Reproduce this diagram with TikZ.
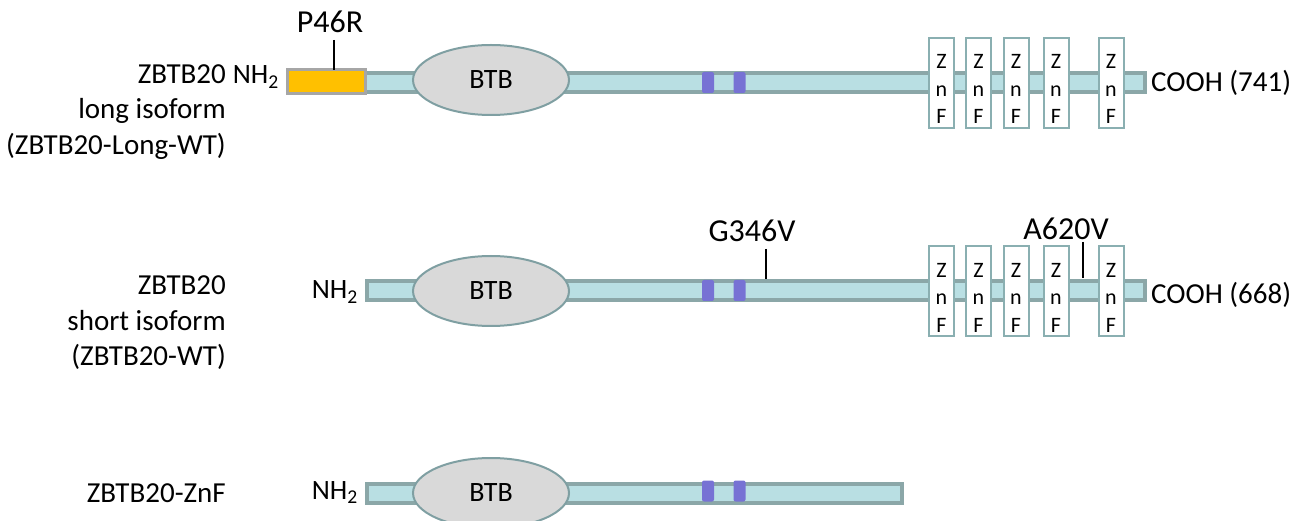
\documentclass[tikz,border=0pt]{standalone}
\usepackage{fontspec}
\setmainfont{Carlito}
\usetikzlibrary{shapes.geometric}
\definecolor{barfill}{HTML}{B9DFE3}
\definecolor{barline}{HTML}{8BA7A8}
\definecolor{btbfill}{HTML}{D9D9D9}
\definecolor{btbline}{HTML}{7F9FA2}
\definecolor{motif}{HTML}{7772D4}
\definecolor{nterm}{HTML}{FFC000}
\definecolor{ntermline}{HTML}{A6A6A6}
\definecolor{znfline}{HTML}{8AAFB1}
\begin{document}
\begin{tikzpicture}[x=1pt,y=-1pt,
  txt/.style={font=\fontsize{29}{35.5}\selectfont, inner sep=0},
  term/.style={font=\fontsize{28}{30}\selectfont, inner sep=0},
  mut/.style={font=\fontsize{32}{38}\selectfont, inner sep=0},
  bar/.style={draw=barline, fill=barfill, line width=4, inner sep=0, minimum height=19},
  btb/.style={ellipse, draw=btbline, fill=btbfill, line width=2, minimum width=156,
    minimum height=70, font=\fontsize{28}{34}\selectfont, inner sep=0},
  znf/.style={rectangle, draw=znfline, fill=white, line width=2, minimum width=25,
    minimum height=90, inner sep=0},
  znftext/.style={font=\fontsize{22}{27.5}\selectfont, align=center, inner sep=0},
  motifbox/.style={fill=motif, rounded corners=2, minimum width=12, minimum height=21, inner sep=0},
  pin/.style={line width=1.3}]
\useasboundingbox (0,0) rectangle (1304,521);

% ---------- long isoform ----------
\node[txt, align=right, anchor=east] (lab1) at (226,112) {ZBTB20\\long isoform\\(ZBTB20-Long-WT)};
\node[term, anchor=base east] (nh1) at (279,84) {NH\textsubscript{2}};
\node[bar, minimum width=855, anchor=west] (bar1) at (288,82.5) {};
\node[draw=ntermline, fill=nterm, line width=3, minimum width=78, minimum height=24, inner sep=0] (nt1) at (326.5,81.5) {};
\node[btb] (btb1) at (491,80) {BTB};
\node[motifbox] (m1a) at (708,82.5) {};
\node[motifbox] (m1b) at (739.5,82.5) {};
\foreach \i/\x in {1/941.5,2/978.5,3/1016,4/1056,5/1111}{
  \node[znf] (z1\i) at (\x,83) {};
  \node[znftext] at ([yshift=-6]z1\i.center) {Z\\n\\F};
}
\node[txt, anchor=west] (c1) at (1151,83) {COOH (741)};
\node[mut, anchor=base] (p46r) at (330,33) {P46R};
\coordinate (p46rA) at (334,40);
\coordinate (p46rB) at (334,70);
\draw[pin] (p46rA) -- (p46rB);

% ---------- short isoform ----------
\node[txt, align=right, anchor=east] (lab2) at (226,323) {ZBTB20\\short isoform\\(ZBTB20-WT)};
\node[term, anchor=base east] (nh2) at (358,299) {NH\textsubscript{2}};
\node[bar, minimum width=778, anchor=west] (bar2) at (365,290.5) {};
\node[btb] (btb2) at (491,291) {BTB};
\node[motifbox] (m2a) at (708,290.5) {};
\node[motifbox] (m2b) at (739.5,290.5) {};
\foreach \i/\x in {1/941.5,2/978.5,3/1016,4/1056,5/1111}{
  \node[znf] (z2\i) at (\x,291.5) {};
  \node[znftext] at ([yshift=-6]z2\i.center) {Z\\n\\F};
}
\node[txt, anchor=west] (c2) at (1151,295) {COOH (668)};
\node[mut, anchor=base] (g346v) at (752,242) {G346V};
\coordinate (g346vA) at (766,249);
\coordinate (g346vB) at (766,279);
\draw[pin] (g346vA) -- (g346vB);
\node[mut, anchor=base] (a620v) at (1066,240) {A620V};
\coordinate (a620vA) at (1083,242);
\coordinate (a620vB) at (1083,278);
\draw[pin] (a620vA) -- (a620vB);

% ---------- ZnF construct ----------
\node[txt, anchor=east] (lab3) at (226,493) {ZBTB20-ZnF};
\node[term, anchor=base east] (nh3) at (358,499) {NH\textsubscript{2}};
\node[bar, minimum width=535, anchor=west] (bar3) at (365,493) {};
\node[btb] (btb3) at (491,493) {BTB};
\node[motifbox] (m3a) at (708,491) {};
\node[motifbox] (m3b) at (739.5,491) {};
\end{tikzpicture}
\end{document}
